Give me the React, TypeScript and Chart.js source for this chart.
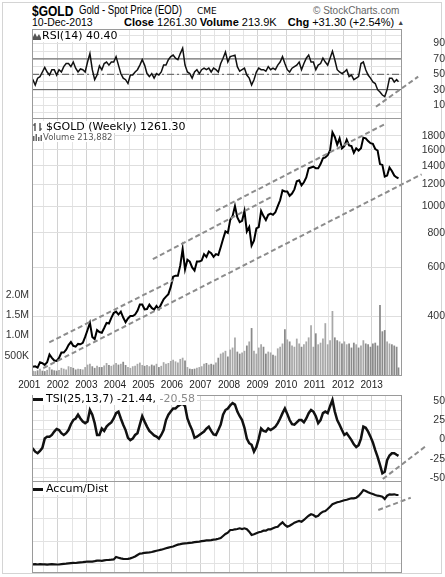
import React, { useEffect, useRef } from 'react';
import { Chart, registerables } from 'chart.js';

Chart.register(...registerables);

// ---------------- data (monthly samples) ----------------
const START_YEAR = 2001;
const LAST_DATE = 2013.94; // 10-Dec-2013
const X_MIN = 2001.095;
const X_MAX = 2014.063;
const yearLabels = [2001, 2002, 2003, 2004, 2005, 2006, 2007, 2008, 2009, 2010, 2011, 2012, 2013];

const priceClose = [
  265, 262, 263, 260, 272, 270, 266, 272, 290, 282, 276, 275,
  282, 295, 295, 302, 314, 322, 312, 310, 317, 316, 320, 336,
  356, 378, 336, 330, 356, 350, 348, 362, 378, 376, 394, 410,
  415, 405, 415, 395, 380, 392, 400, 400, 405, 418, 440, 440,
  423, 424, 440, 428, 422, 435, 424, 442, 460, 470, 480, 510,
  555, 560, 560, 610, 700, 590, 640, 630, 600, 585, 630, 630,
  635, 670, 655, 685, 675, 655, 670, 665, 710, 760, 810, 800,
  890, 920, 1000, 910, 875, 885, 960, 810, 840, 720, 750, 830,
  840, 960, 920, 890, 930, 940, 930, 950, 1000, 1050, 1140, 1130,
  1130, 1090, 1110, 1150, 1230, 1240, 1190, 1220, 1270, 1370, 1380, 1390,
  1370, 1370, 1420, 1490, 1500, 1530, 1590, 1850, 1780, 1670, 1760, 1620,
  1650, 1740, 1660, 1650, 1560, 1620, 1590, 1620, 1770, 1760, 1720, 1690,
  1680, 1610, 1590, 1420, 1410, 1280, 1290, 1380, 1340, 1290, 1270, 1261.3,
];

const volumeM = [
  0.15, 0.13, 0.12, 0.14, 0.18, 0.13, 0.12, 0.15, 0.22, 0.16, 0.14, 0.13,
  0.15, 0.20, 0.18, 0.16, 0.24, 0.22, 0.20, 0.16, 0.18, 0.17, 0.16, 0.22,
  0.28, 0.30, 0.24, 0.20, 0.25, 0.22, 0.22, 0.26, 0.32, 0.27, 0.25, 0.28,
  0.32, 0.28, 0.30, 0.35, 0.27, 0.22, 0.20, 0.24, 0.25, 0.30, 0.33, 0.27,
  0.25, 0.27, 0.24, 0.28, 0.26, 0.30, 0.22, 0.25, 0.34, 0.30, 0.32, 0.37,
  0.40, 0.36, 0.33, 0.42, 0.45, 0.38, 0.22, 0.18, 0.17, 0.18, 0.20, 0.22,
  0.24, 0.30, 0.32, 0.28, 0.30, 0.28, 0.33, 0.45, 0.55, 0.58, 0.62, 0.48,
  0.65, 0.70, 0.95, 0.60, 0.55, 0.58, 0.62, 0.75, 0.85, 1.18, 0.62, 0.55,
  0.70, 0.78, 0.72, 0.55, 0.60, 0.58, 0.52, 0.50, 0.68, 0.72, 0.80, 1.15,
  0.90, 0.85, 0.75, 0.72, 0.92, 0.80, 0.72, 0.78, 0.85, 0.95, 1.25, 0.72,
  1.05, 0.78, 0.82, 0.92, 1.30, 0.78, 0.88, 1.60, 0.95, 0.88, 0.85, 0.80,
  0.85, 0.78, 0.80, 0.70, 0.82, 0.78, 0.70, 0.75, 0.88, 0.80, 0.78, 0.72,
  0.80, 0.82, 0.75, 1.75, 1.10, 1.13, 0.85, 0.80, 0.78, 0.75, 0.72, 0.21,
];

const rsi14 = [
  47, 43, 36, 45, 47, 53, 59, 53, 49, 56, 56, 49,
  56, 53, 60, 64, 64, 60, 66, 58, 53, 57, 56, 53,
  66, 77, 56, 43, 49, 61, 56, 64, 66, 62, 66, 66,
  73, 62, 51, 45, 43, 38, 49, 49, 53, 56, 62, 69,
  62, 51, 47, 51, 45, 51, 49, 53, 62, 62, 69, 73,
  75, 71, 69, 77, 84, 62, 53, 51, 45, 53, 56, 51,
  56, 58, 56, 58, 53, 58, 56, 53, 64, 71, 79, 66,
  73, 74, 75, 60, 54, 56, 58, 49, 45, 36, 43, 53,
  58, 56, 56, 54, 60, 56, 58, 56, 62, 66, 73, 64,
  56, 53, 58, 60, 62, 66, 56, 64, 71, 75, 66, 66,
  56, 62, 64, 71, 66, 62, 71, 80, 69, 56, 53, 51,
  53, 56, 47, 49, 43, 45, 47, 64, 66, 56, 49, 45,
  40, 38, 30, 27, 23, 21, 30, 45, 45, 40, 43, 40.4,
];

const tsi = [
  -10, -12, -16, -18, -15, -11, 1, 3.5, 3.5, 5.7, 10, 13.5,
  12, 8, 5.7, 8, 12, 19.6, 25, 27, 32, 27, 23, 21,
  23, 38, 32, 21, 5.7, 5.7, 14, 11, 16.5, 19.6, 22, 27,
  34, 36, 27, 19, 12, 2, -1, 1, 5.7, 8, 19, 30,
  23, 16.5, 11, 8, 5, 3.5, 1, 5.7, 12, 25, 32, 36,
  40, 40, 43, 45, 46, 43, 27, 19, 12, 2, 3.5, 5.7,
  8, 10, 14, 16.5, 11, 6.5, 5.7, 12, 19, 32, 38, 40,
  44, 47, 45, 36, 30, 25, 15, 1, -5, -7, -16, -10,
  1, 14, 11, 10, 14, 12, 14, 16.5, 21, 27, 34, 40,
  33, 25, 19.6, 19, 22, 25, 25, 22, 27, 34, 38, 36,
  30, 21, 25, 34, 36, 34, 43, 51, 36, 25, 19, 12,
  5.7, 8, 3.5, -1, -6.5, -10, -7.5, 1, 16.5, 15, 10, 3.5,
  -4, -14, -22.6, -33, -44, -42, -27, -21, -18, -18, -20, -21.44,
];

const accumDist = [
  7.7, 7.6, 7.8, 7.5, 7.9, 7.6, 7.7, 7.4, 7.6, 7.8, 7.7, 7.5,
  7.5, 7.9, 8.2, 8.4, 8.7, 8.9, 9.1, 9.0, 9.4, 9.7, 9.9, 10.2,
  10.5, 10.3, 10.4, 10.8, 11.3, 11.5, 11.2, 11.6, 12.0, 12.1, 12.3, 12.6,
  15.0, 14.3, 13.6, 13.2, 13.0, 13.2, 13.6, 14.4, 15.5, 17.0, 18.4, 18.6,
  19.2, 19.4, 19.6, 20.0, 20.6, 21.2, 21.8, 22.3, 23.0, 23.8, 24.4, 25.0,
  25.5, 26.6, 27.4, 27.8, 28.3, 28.6, 28.8, 29.2, 29.4, 29.8, 30.2, 30.4,
  30.8, 31.2, 31.6, 31.7, 31.9, 32.3, 32.6, 33.2, 34.0, 36.0, 38.0, 39.3,
  42.0, 42.0, 42.7, 43.0, 43.7, 43.0, 43.7, 42.7, 40.3, 37.0, 37.7, 38.7,
  39.7, 40.3, 41.3, 41.3, 42.7, 42.7, 43.7, 44.7, 45.3, 47.7, 49.7, 47.0,
  45.3, 46.3, 47.7, 49.3, 50.3, 51.0, 50.3, 52.0, 54.3, 56.3, 57.7, 57.0,
  55.3, 56.3, 58.7, 60.3, 61.0, 63.0, 65.3, 67.7, 68.7, 69.7, 70.3, 71.0,
  71.7, 72.3, 73.0, 73.7, 73.7, 74.3, 76.0, 78.7, 82.0, 81.0, 79.7, 78.7,
  78.0, 77.0, 76.3, 76.0, 75.3, 73.0, 76.3, 77.7, 77.3, 77.7, 77.0, 77.0,
];

// axis ticks / ranges
const PRICE_MIN = 242.6;
const PRICE_MAX = 2085;
const priceTicks = [400, 600, 800, 1000, 1200, 1400, 1600, 1800];
const VOL_MAX = 6.35;
const volumeTicks = [0.5, 1, 1.5, 2];
const volumeTickLabels = ['500K', '1.0M', '1.5M', '2.0M'];
const RSI_MIN = -8.2;
const RSI_MAX = 109;
const rsiTicks = [10, 30, 50, 70, 90];
const rsiGrid = [0, 10, 20, 30, 40, 50, 60, 70, 80, 90, 100];
const rsiBands = [70, 30];
const rsiMid = 50;
const TSI_MIN = -55.3;
const TSI_MAX = 57.5;
const tsiTicks = [-50, -25, 0, 25, 50];
const tsiGrid = [-50, -37.5, -25, -12.5, 0, 12.5, 25, 37.5, 50];
const AD_MIN = -1;
const AD_MAX = 91;
const adGrid = [9, 31, 53, 75];

// hand-drawn trend lines [year, value]
const priceTrendLines: number[][][] = [
  [[2001.70, 321], [2006.05, 540]],
  [[2005.33, 643], [2009.55, 1088]],
  [[2007.54, 960], [2013.47, 1984]],
  [[2001.49, 259], [2014.75, 1304]],
];
const rsiTrendLine = [[2013.15, 7.8], [2014.63, 46.9]];
const tsiTrendLine = [[2013.39, -51.4], [2014.87, -9.6]];
const adTrendLine = [[2013.23, 62], [2014.37, 74.3]];

// ---------------- helpers ----------------
const monthDates = priceClose.map((_, i) =>
  i === priceClose.length - 1 ? LAST_DATE : START_YEAR + (i + 0.5) / 12
);
const xy = (vals: number[]) => vals.map((v, i) => ({ x: monthDates[i], y: v }));
const pts = (line: number[][]) => line.map(([x, y]) => ({ x, y }));
const xGrid: number[] = [];
yearLabels.forEach((y) => { xGrid.push(y); xGrid.push(y + 0.5); });

const AXIS_FONT = { family: '"Liberation Sans", Arial, sans-serif', size: 10.5 };
const TRANSPARENT = 'rgba(0,0,0,0)';

const framePlugin = {
  id: 'frame',
  afterDraw(chart: any) {
    const { ctx, chartArea: a } = chart;
    ctx.save();
    ctx.strokeStyle = '#9a9a9a';
    ctx.lineWidth = 1;
    ctx.strokeRect(a.left + 0.5, a.top + 0.5, a.right - a.left - 1, a.bottom - a.top - 1);
    ctx.restore();
  },
};

const fitWidth = (w: number) => (s: any) => {
  s.width = w;
  s.paddingTop = 0;
  s.paddingBottom = 0;
};

function xScale(showLabels: boolean) {
  return {
    type: 'linear',
    min: X_MIN,
    max: X_MAX,
    offset: false,
    afterBuildTicks: (s: any) => { s.ticks = xGrid.map((value) => ({ value })); },
    ticks: {
      display: showLabels,
      autoSkip: false,
      maxRotation: 0,
      padding: 3,
      color: '#222',
      font: { family: '"Liberation Sans", Arial, sans-serif', size: 10 },
      callback: (v: number) => (Number.isInteger(v) ? String(v) : ''),
    },
    grid: {
      drawTicks: false,
      offset: false,
      color: (ctx: any) => {
        const v = ctx.tick ? ctx.tick.value : null;
        if (v == null || v < X_MIN) return TRANSPARENT;
        return Number.isInteger(v) ? '#d2d2d2' : '#e4e4e4';
      },
    },
    border: { display: false },
    afterFit: (s: any) => {
      s.height = showLabels ? 16 : 0;
      s.paddingLeft = 0;
      s.paddingRight = 0;
    },
  };
}

function rightScale(min: number, max: number, grid: number[], labels: number[], showLabels = true) {
  return {
    type: 'linear',
    position: 'right',
    min,
    max,
    afterBuildTicks: (s: any) => { s.ticks = grid.map((value) => ({ value })); },
    ticks: {
      display: showLabels,
      autoSkip: false,
      crossAlign: 'far',
      padding: 4,
      color: '#333',
      font: AXIS_FONT,
      callback: (v: number) => (labels.includes(v) ? String(v) : ''),
    },
    grid: { drawTicks: false, color: '#e2e2e2' },
    border: { display: false },
    afterFit: fitWidth(43),
  };
}

const baseOptions = (padLeft: number) => ({
  responsive: false,
  maintainAspectRatio: false,
  animation: false,
  events: [],
  layout: { padding: { left: padLeft, right: 0, top: 0, bottom: 0 }, autoPadding: false },
  plugins: { legend: { display: false }, tooltip: { enabled: false } },
});

const trendDataset = (line: number[][], yAxisID = 'y') => ({
  type: 'line',
  data: pts(line),
  yAxisID,
  borderColor: '#8c8c8c',
  borderWidth: 2,
  borderDash: [5, 3],
  pointRadius: 0,
  clip: false,
  order: 1,
});

const levelDataset = (level: number, dash: number[]) => ({
  type: 'line',
  data: [{ x: X_MIN, y: level }, { x: X_MAX, y: level }],
  borderColor: '#555',
  borderWidth: 1,
  borderDash: dash,
  pointRadius: 0,
  order: 4,
});

// ---------------- chart configs ----------------
function rsiConfig(): any {
  return {
    type: 'line',
    data: {
      datasets: [
        ...rsiBands.map((l) => levelDataset(l, [])),
        levelDataset(rsiMid, [7, 3, 2, 3]),
        trendDataset(rsiTrendLine),
        { type: 'line', data: xy(rsi14), borderColor: '#111', borderWidth: 1.5, pointRadius: 0, order: 2 },
      ],
    },
    options: {
      ...baseOptions(32),
      scales: { x: xScale(false), y: rightScale(RSI_MIN, RSI_MAX, rsiGrid, rsiTicks) },
    },
    plugins: [framePlugin],
  };
}

function mainConfig(): any {
  const volColors = volumeM.map((_, i) =>
    i > 0 && priceClose[i] < priceClose[i - 1] ? '#8a8a8a' : '#a8a8a8'
  );
  return {
    type: 'line',
    data: {
      datasets: [
        ...priceTrendLines.map((l) => trendDataset(l, 'y')),
        { type: 'line', data: xy(priceClose), yAxisID: 'y', borderColor: '#000', borderWidth: 2, pointRadius: 0, order: 2 },
        {
          type: 'bar',
          data: xy(volumeM),
          yAxisID: 'yv',
          backgroundColor: volColors,
          categoryPercentage: 1,
          barPercentage: 0.95,
          order: 5,
        },
      ],
    },
    options: {
      ...baseOptions(0),
      scales: {
        x: xScale(true),
        y: {
          type: 'logarithmic',
          position: 'right',
          min: PRICE_MIN,
          max: PRICE_MAX,
          afterBuildTicks: (s: any) => { s.ticks = priceTicks.map((value) => ({ value })); },
          ticks: { autoSkip: false, crossAlign: 'far', padding: 4, color: '#333', font: AXIS_FONT, callback: (v: number) => String(v) },
          grid: { drawTicks: false, color: '#dedede' },
          border: { display: false },
          afterFit: fitWidth(43),
        },
        yv: {
          type: 'linear',
          position: 'left',
          min: 0,
          max: VOL_MAX,
          afterBuildTicks: (s: any) => { s.ticks = volumeTicks.map((value) => ({ value })); },
          ticks: {
            autoSkip: false,
            padding: 3,
            color: '#333',
            font: AXIS_FONT,
            callback: (v: number) => volumeTickLabels[volumeTicks.indexOf(v)] ?? '',
          },
          grid: { display: false, drawTicks: false },
          border: { display: false },
          afterFit: fitWidth(32),
        },
      },
    },
    plugins: [framePlugin],
  };
}

function tsiConfig(): any {
  return {
    type: 'line',
    data: {
      datasets: [
        trendDataset(tsiTrendLine),
        { type: 'line', data: xy(tsi), borderColor: '#111', borderWidth: 2.5, pointRadius: 0, order: 2 },
      ],
    },
    options: {
      ...baseOptions(32),
      scales: { x: xScale(false), y: rightScale(TSI_MIN, TSI_MAX, tsiGrid, tsiTicks) },
    },
    plugins: [framePlugin],
  };
}

function adConfig(): any {
  return {
    type: 'line',
    data: {
      datasets: [
        trendDataset(adTrendLine),
        { type: 'line', data: xy(accumDist), borderColor: '#111', borderWidth: 2.2, pointRadius: 0, order: 2 },
      ],
    },
    options: {
      ...baseOptions(32),
      scales: { x: xScale(false), y: rightScale(AD_MIN, AD_MAX, adGrid, [], false) },
    },
    plugins: [framePlugin],
  };
}

// ---------------- components ----------------
function Panel({ top, height, make }: { top: number; height: number; make: () => any }) {
  const ref = useRef<HTMLCanvasElement>(null);
  useEffect(() => {
    const chart = new Chart(ref.current as HTMLCanvasElement, make());
    return () => chart.destroy();
  }, []);
  return (
    <canvas
      ref={ref}
      width={445}
      height={height}
      style={{ position: 'absolute', left: 0, top, width: 445, height, display: 'block' }}
    />
  );
}

const LEG_FONT = '"DejaVu Sans", Verdana, sans-serif';
const HDR_FONT = '"Liberation Sans", Arial, sans-serif';

const abs = (left: number, top: number, extra: React.CSSProperties = {}): React.CSSProperties => ({
  position: 'absolute',
  left,
  top,
  whiteSpace: 'nowrap',
  ...extra,
});

export default function App() {
  return (
    <div
      style={{
        position: 'fixed',
        left: 0,
        top: 0,
        width: 445,
        height: 577,
        background: '#fff',
        overflow: 'hidden',
        color: '#000',
      }}
    >
      <div style={abs(2, 2, { width: 438, height: 570, border: '1px solid #d4d4d4' })} />

      {/* header */}
      <div style={abs(32, 2.5, { font: `bold 15px ${HDR_FONT}`, lineHeight: '15px', transform: 'scaleX(0.8)', transformOrigin: 'left top' })}>$GOLD</div>
      <div style={abs(79, 4, { font: `12px ${HDR_FONT}`, lineHeight: '12px', transform: 'scaleX(0.8)', transformOrigin: 'left top' })}>Gold - Spot Price (EOD)</div>
      <div style={abs(197, 6.5, { font: `9px ${LEG_FONT}`, lineHeight: '9px' })}>CME</div>
      <div style={abs(313, 6, { font: `10px ${HDR_FONT}`, lineHeight: '10px', color: '#666' })}>© StockCharts.com</div>

      <div style={abs(32, 17, { font: `10.5px ${HDR_FONT}`, lineHeight: '11px' })}>10-Dec-2013</div>
      <div style={abs(124, 17, { font: `11px ${HDR_FONT}`, lineHeight: '11px' })}>
        <b>Close</b> 1261.30 <b>Volume</b> 213.9K <b style={{ marginLeft: 8 }}>Chg</b> +31.30 (+2.54%){' '}
        <span style={{ fontSize: 7, color: '#444', verticalAlign: 1 }}>▲</span>
      </div>

      {/* charts */}
      <Panel top={29} height={90} make={rsiConfig} />
      <Panel top={118} height={274} make={mainConfig} />
      <Panel top={395} height={87} make={tsiConfig} />
      <Panel top={481} height={92} make={adConfig} />

      {/* panel legends */}
      <div style={abs(33, 30, { background: '#fff', height: 12, paddingRight: 2, display: 'flex', alignItems: 'center' })}>
        <svg width="8" height="8" style={{ marginRight: 1 }}>
          <polygon points="0,8 0,5 2,1 4,5 6,2 8,6 8,8" fill="#555" />
        </svg>
        <span style={{ font: `11px ${LEG_FONT}`, lineHeight: '12px' }}>RSI(14) 40.40</span>
      </div>

      <div style={abs(33, 121, { background: '#fff', height: 12, paddingRight: 2, display: 'flex', alignItems: 'center' })}>
        <svg width="12" height="10" style={{ marginRight: 1 }}>
          <line x1="2" y1="1" x2="2" y2="9" stroke="#333" strokeWidth="1.2" />
          <line x1="0" y1="3" x2="2" y2="3" stroke="#333" strokeWidth="1.2" />
          <line x1="7" y1="1" x2="7" y2="9" stroke="#333" strokeWidth="1.2" />
          <line x1="7" y1="7" x2="9" y2="7" stroke="#333" strokeWidth="1.2" />
        </svg>
        <span style={{ font: `11px ${LEG_FONT}`, lineHeight: '12px' }}>$GOLD (Weekly) 1261.30</span>
      </div>
      <div style={abs(33, 132, { background: '#fff', height: 10, paddingRight: 2, display: 'flex', alignItems: 'center' })}>
        <svg width="10" height="8">
          <rect x="0" y="3" width="1.5" height="5" fill="#666" />
          <rect x="2.5" y="1" width="1.5" height="7" fill="#666" />
          <rect x="5" y="4" width="1.5" height="4" fill="#666" />
          <rect x="7.5" y="2" width="1.5" height="6" fill="#666" />
        </svg>
        <span style={{ font: `8.5px ${LEG_FONT}`, lineHeight: '10px', color: '#555' }}>Volume 213,882</span>
      </div>

      <div style={abs(33, 393, { background: '#fff', height: 12, paddingRight: 2, display: 'flex', alignItems: 'center' })}>
        <div style={{ width: 10, height: 3, background: '#111', marginRight: 3 }} />
        <span style={{ font: `11px ${LEG_FONT}`, lineHeight: '12px' }}>
          TSI(25,13,7) -21.44, <span style={{ color: '#8a8a8a' }}>-20.58</span>
        </span>
      </div>

      <div style={abs(33, 483, { background: '#fff', height: 12, paddingRight: 2, display: 'flex', alignItems: 'center' })}>
        <div style={{ width: 10, height: 3, background: '#111', marginRight: 3 }} />
        <span style={{ font: `11px ${LEG_FONT}`, lineHeight: '12px' }}>Accum/Dist</span>
      </div>
    </div>
  );
}
